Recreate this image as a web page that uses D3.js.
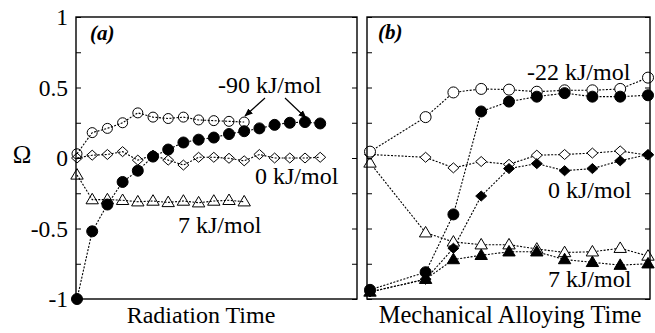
<!DOCTYPE html>
<html><head><meta charset="utf-8">
<script src="https://cdn.jsdelivr.net/npm/d3@7"></script>
<style>
html,body{margin:0;padding:0;background:#fff;}
svg text{font-family:"Liberation Serif","Times New Roman",Times,"DejaVu Serif",serif !important;}
</style></head>
<body>
<svg id="chart" width="655" height="333"></svg>
<script>
// ---------- data ----------
const yTicks = [-1, -0.75, -0.5, -0.25, 0, 0.25, 0.5, 0.75, 1];
const yTickLabels = {"-1":"-1","-0.5":"-0.5","0":"0","0.5":"0.5","1":"1"};

// panel (a): Radiation Time (index positions)
const aX = [0,1,2,3,4,5,6,7,8,9,10,11,12,13,14,15,16];
const aOpen90   = [0.03, 0.18, 0.21, 0.25, 0.32, 0.29, 0.28, 0.29, 0.27, 0.265, 0.26, 0.255];
const aFilled90 = [-1.0, -0.52, -0.33, -0.17, -0.09, 0.01, 0.06, 0.11, 0.13, 0.145, 0.17, 0.19, 0.21, 0.235, 0.25, 0.255, 0.245];
const aZero     = [0.0, 0.02, 0.025, 0.045, -0.015, 0.02, -0.015, -0.05, 0.005, 0.005, -0.002, -0.02, 0.025, 0.0, 0.0, 0.0, 0.005];
const aSeven    = [-0.12, -0.295, -0.295, -0.3, -0.31, -0.305, -0.315, -0.305, -0.317, -0.305, -0.3, -0.31];

// panel (b): Mechanical Alloying Time
const bX = [0,2,3,4,5,6,7,8,9,10];
const bOpen22   = [0.045, 0.29, 0.465, 0.49, 0.485, 0.47, 0.48, 0.48, 0.49, 0.57];
const bFilled22 = [-0.935, -0.81, -0.40, 0.33, 0.40, 0.435, 0.46, 0.435, 0.435, 0.445];
const bOpen0    = [0.025, 0.005, -0.07, -0.025, -0.045, 0.02, 0.025, 0.035, 0.05, 0.02];
const bFilled0  = [-0.95, -0.86, -0.64, -0.27, -0.075, -0.04, -0.09, -0.075, -0.02, 0.025];
const bOpen7    = [-0.035, -0.53, -0.595, -0.615, -0.615, -0.645, -0.67, -0.665, -0.64, -0.695];
const bFilled7  = [-0.95, -0.86, -0.72, -0.69, -0.665, -0.665, -0.72, -0.74, -0.76, -0.75];

// ---------- layout ----------
const svg = d3.select("#chart");
const yTop = 17, yBot = 299;
const A = {left:76, right:357}, B = {left:367, right:650};
const y = d3.scaleLinear().domain([-1,1]).range([yBot, yTop]);
const xa = d3.scaleLinear().domain([0,16]).range([77, 320.2]);
const xb = d3.scaleLinear().domain([0,10]).range([370, 648]);

// custom symbols
const diamond = {draw(ctx, s){ const w=5.5, h=5; ctx.moveTo(0,-h); ctx.lineTo(w,0); ctx.lineTo(0,h); ctx.lineTo(-w,0); ctx.closePath(); }};
const triangle = {draw(ctx, s){ const w=6.2, h=10.5; ctx.moveTo(0,-h*0.6); ctx.lineTo(w,h*0.4); ctx.lineTo(-w,h*0.4); ctx.closePath(); }};
const circle = {draw(ctx, s){ const r=s; ctx.moveTo(r,0); ctx.arc(0,0,r,0,2*Math.PI); }};

function series(xs, ys, xScale, sym, size, fill){
  const pts = ys.map((v,i)=>[xScale(xs[i]), y(v)]);
  svg.append("path").attr("d", d3.line()(pts))
    .attr("fill","none").attr("stroke","#000").attr("stroke-width",1.1)
    .attr("stroke-dasharray","2,1.5");
  return {pts, sym, size, fill};
}
function marks(s){
  svg.append("g").selectAll("path").data(s.pts).join("path")
    .attr("transform", d=>`translate(${d[0]},${d[1]})`)
    .attr("d", d3.symbol().type(s.sym).size(s.size)())
    .attr("fill", s.fill).attr("stroke","#000").attr("stroke-width",1);
}

// panel a
const sa = [
  series(aX, aSeven, xa, triangle, 0, "none"),
  series(aX, aZero, xa, diamond, 0, "none"),
  series(aX, aOpen90, xa, circle, 5, "none"),
  series(aX, aFilled90, xa, circle, 5.5, "#000"),
];
sa.forEach(marks);

// panel b
const sb = [
  series(bX, bOpen7, xb, triangle, 0, "#fff"),
  series(bX, bOpen0, xb, diamond, 0, "#fff"),
  series(bX, bOpen22, xb, circle, 5.5, "#fff"),
  series(bX, bFilled7, xb, triangle, 0, "#000"),
  series(bX, bFilled0, xb, diamond, 0, "#000"),
  series(bX, bFilled22, xb, circle, 5.5, "#000"),
];
sb.forEach(marks);

// frames
[A,B].forEach(p=>{
  svg.append("rect").attr("x",p.left).attr("y",yTop).attr("width",p.right-p.left).attr("height",yBot-yTop)
    .attr("fill","none").attr("stroke","#000").attr("stroke-width",1.4);
});

// axes (inward ticks)
const fmt = d => yTickLabels[String(d)] || "";
function yAxis(x, orient, labels){
  const ax = (orient==="left"? d3.axisLeft(y) : d3.axisRight(y))
    .tickValues(yTicks).tickSizeInner(-5).tickSizeOuter(0).tickPadding(8)
    .tickFormat(labels ? fmt : ()=> "");
  const g = svg.append("g").attr("transform",`translate(${x},0)`).call(ax);
  g.attr("font-family", null);
  g.select(".domain").remove();
  g.selectAll("line").attr("stroke","#000").attr("stroke-width",1);
  g.selectAll("text").attr("font-size",23.5).attr("fill","#000");
}
yAxis(A.left, "left", true);
yAxis(A.right, "right", false);
yAxis(B.left, "left", false);
yAxis(B.right, "right", false);

// text
function txt(x, yy, s, opts={}){
  const t = svg.append("text").attr("x",x).attr("y",yy).text(s)
    .attr("font-size", opts.size||24).attr("fill","#000")
    .attr("text-anchor", opts.anchor||"start");
  if(opts.bold) t.attr("font-weight","bold");
  if(opts.italic) t.attr("font-style","italic");
  return t;
}
txt(22, 163, "Ω", {anchor:"middle", size:25});
txt(201, 323, "Radiation Time", {anchor:"middle"});
txt(510, 323, "Mechanical Alloying Time", {anchor:"middle", size:24.5});
txt(90, 40, "(a)", {bold:true, italic:true, size:21});
txt(378, 39, "(b)", {bold:true, italic:true, size:21});
txt(218, 93, "-90 kJ/mol");
txt(255, 184, "0 kJ/mol");
txt(178, 233, "7 kJ/mol");
txt(527, 80, "-22 kJ/mol");
txt(548, 198, "0 kJ/mol");
txt(548, 287, "7 kJ/mol");

// arrows
const defs = svg.append("defs");
defs.append("marker").attr("id","ah").attr("viewBox","0 0 10 10").attr("refX",9).attr("refY",5)
  .attr("markerWidth",7).attr("markerHeight",7).attr("orient","auto")
  .append("path").attr("d","M0,1 L10,5 L0,9 z").attr("fill","#000");
[[265,98,245,116],[285,98,306,118]].forEach(a=>{
  svg.append("line").attr("x1",a[0]).attr("y1",a[1]).attr("x2",a[2]).attr("y2",a[3])
    .attr("stroke","#000").attr("stroke-width",1.2).attr("marker-end","url(#ah)");
});
</script>
</body></html>
